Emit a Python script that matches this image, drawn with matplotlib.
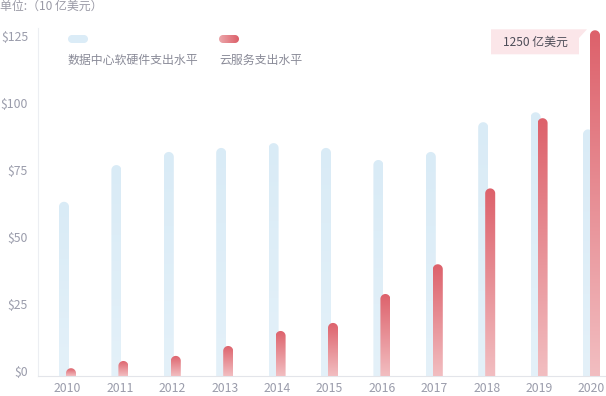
import numpy as np
import matplotlib
matplotlib.use("Agg")
import matplotlib.pyplot as plt
from matplotlib.path import Path
from matplotlib.patches import PathPatch, Polygon
from matplotlib.colors import LinearSegmentedColormap
from matplotlib.transforms import IdentityTransform, blended_transform_factory

plt.rcParams["font.family"] = ["Noto Sans CJK SC", "DejaVu Sans"]

# data (10 亿美元)
years = ["2010", "2011", "2012", "2013", "2014", "2015", "2016", "2017", "2018", "2019", "2020"]
dc_spend = [65.0, 78.7, 83.6, 85.1, 86.9, 85.1, 80.6, 83.6, 94.7, 98.4, 92.0]
cloud_spend = [2.9, 5.6, 7.5, 11.2, 16.8, 19.8, 30.6, 41.7, 70.0, 96.2, 129.0]
yticks = [0, 25, 50, 75, 100, 125]
legend_labels = ["数据中心软硬件支出水平", "云服务支出水平"]
note = "1250 亿美元"
unit_title = "单位:（10 亿美元）"

W, H = 606, 396
fig = plt.figure(figsize=(W / 100, H / 100), dpi=100)

# layout in pixels
ax_l, ax_b = 38, 20
ax = fig.add_axes([ax_l / W, ax_b / H, (W - ax_l) / W, (H - ax_b) / H])
step_px = 52.4          # px per category
first_px = 67.5         # centre of 2010
py_per_unit = 2.68      # px per 10 亿美元
xmin = (ax_l - first_px) / step_px
xmax = (W - first_px) / step_px
ymax = (H - ax_b) / py_per_unit

bar_w = 10 / step_px
off = 3.5 / step_px
ry = 5 / py_per_unit

blue_cols = ["#e4f1f9", "#d9ebf6"]
red_cols = ["#f2bec1", "#dd616b"]
tick_col = "#9a9cab"
text_col = "#8a8b98"


def round_bar(xc, h, cols, z):
    hw = bar_w / 2
    cy = max(h - ry, 0)
    t = np.linspace(0, np.pi, 40)
    verts = [(xc + hw, 0)] + list(zip(xc + hw * np.cos(t), cy + ry * np.sin(t))) + [(xc - hw, 0), (xc + hw, 0)]
    patch = PathPatch(Path(verts, closed=True), facecolor="none", edgecolor="none")
    ax.add_patch(patch)
    cmap = LinearSegmentedColormap.from_list("g", cols)
    grad = np.linspace(0, 1, 256).reshape(-1, 1)
    im = ax.imshow(grad, extent=[xc - hw, xc + hw, 0, h], origin="lower", aspect="auto",
                   cmap=cmap, interpolation="bilinear", zorder=z)
    im.set_clip_path(patch)


for i in range(len(years)):
    round_bar(i - off, dc_spend[i], blue_cols, 2)
    round_bar(i + off, cloud_spend[i], red_cols, 3)

ax.set_xlim(xmin, xmax)
ax.set_ylim(0, ymax)
ax.set_xticks([])
ax.set_yticks([])
for s in ["top", "right"]:
    ax.spines[s].set_visible(False)
ax.spines["bottom"].set_color("#e3e5ea")
ax.spines["bottom"].set_linewidth(0.8)
ax.spines["left"].set_color("#eceef2")
ax.spines["left"].set_linewidth(0.8)
ax.spines["left"].set_bounds(0, 130)
ax.patch.set_alpha(0)

# y labels (baseline on the tick)
ytr = blended_transform_factory(ax.transAxes, ax.transData)
for v in yticks:
    ax.text((28 - ax_l) / (W - ax_l), v, "$%d" % v, ha="right", va="baseline",
            fontsize=8.8, color=tick_col, transform=ytr)

# x labels
xtr = blended_transform_factory(ax.transData, ax.transAxes)
for i, yr in enumerate(years):
    ax.text(i, -16.5 / (H - ax_b), yr, ha="center", va="baseline", fontsize=8.8,
            color=tick_col, transform=xtr)

# title
fig.text(0, 1 - 6.5 / H, unit_title, ha="left", va="center", fontsize=8.6, color="#9a9aa6")


# legend
def pill_path(x0, ytop, w, h):
    r = h / 2
    yb = H - ytop - h
    t1 = np.linspace(-np.pi / 2, np.pi / 2, 20)
    t2 = np.linspace(np.pi / 2, 3 * np.pi / 2, 20)
    right = list(zip(x0 + w - r + r * np.cos(t1), yb + r + r * np.sin(t1)))
    left = list(zip(x0 + r + r * np.cos(t2), yb + r + r * np.sin(t2)))
    return Path(right + left + [right[0]], closed=True)


fig.add_artist(PathPatch(pill_path(68, 35, 20, 8), facecolor="#dbecf7", edgecolor="none",
                         transform=IdentityTransform()))
lax = fig.add_axes([219 / W, (H - 43) / H, 20 / W, 8 / H])
lax.axis("off")
red_pill = PathPatch(pill_path(219, 35, 20, 8), facecolor="none", edgecolor="none",
                     transform=IdentityTransform())
fig.add_artist(red_pill)
lim = lax.imshow(np.linspace(0, 1, 64).reshape(1, -1), extent=[0, 1, 0, 1], aspect="auto",
                 cmap=LinearSegmentedColormap.from_list("p", ["#eca7ab", "#dc5f69"]))
lim.set_clip_path(red_pill)
fig.text(67 / W, 1 - 60 / H, legend_labels[0], ha="left", va="center", fontsize=8.6, color=text_col)
fig.text(219 / W, 1 - 60 / H, legend_labels[1], ha="left", va="center", fontsize=8.6, color=text_col)

# note box next to 2020 bar
box = [(491, 29.3), (587, 29.3), (579, 38), (579, 54.3), (491, 54.3)]
fig.add_artist(Polygon([(x / W, 1 - y / H) for x, y in box], closed=True, facecolor="#fbe6e9",
                       edgecolor="none", transform=fig.transFigure))
fig.text(535 / W, 1 - 42.5 / H, note, ha="center", va="center", fontsize=8.6, color="#4d4d58")

fig.savefig("out.png", dpi=100)
